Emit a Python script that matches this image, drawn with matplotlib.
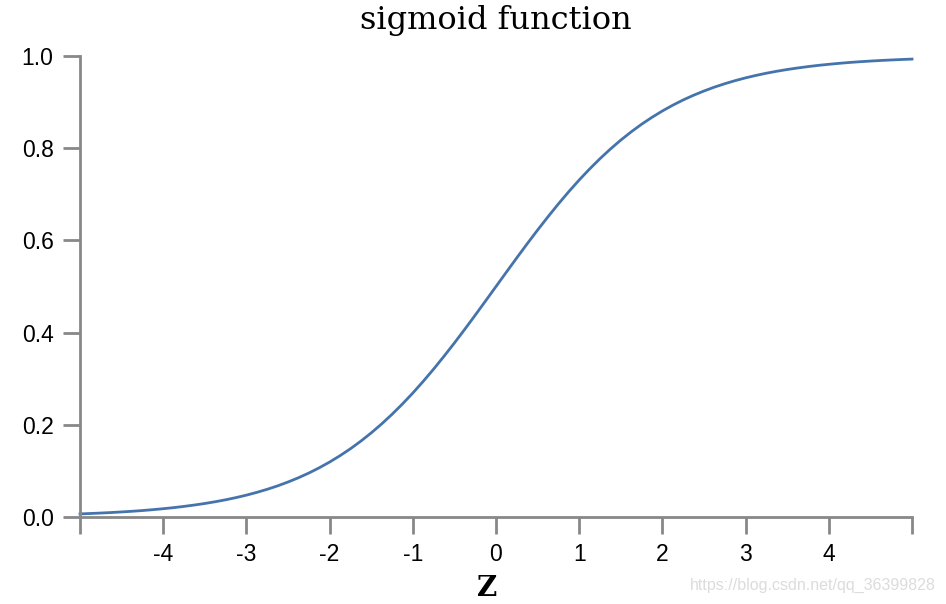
import matplotlib
matplotlib.use("Agg")
import matplotlib.pyplot as plt

z_values = [-5.0, -4.875, -4.75, -4.625, -4.5, -4.375, -4.25, -4.125, -4.0, -3.875,
            -3.75, -3.625, -3.5, -3.375, -3.25, -3.125, -3.0, -2.875, -2.75, -2.625,
            -2.5, -2.375, -2.25, -2.125, -2.0, -1.875, -1.75, -1.625, -1.5, -1.375,
            -1.25, -1.125, -1.0, -0.875, -0.75, -0.625, -0.5, -0.375, -0.25, -0.125,
            0.0, 0.125, 0.25, 0.375, 0.5, 0.625, 0.75, 0.875, 1.0, 1.125,
            1.25, 1.375, 1.5, 1.625, 1.75, 1.875, 2.0, 2.125, 2.25, 2.375,
            2.5, 2.625, 2.75, 2.875, 3.0, 3.125, 3.25, 3.375, 3.5, 3.625,
            3.75, 3.875, 4.0, 4.125, 4.25, 4.375, 4.5, 4.625, 4.75, 4.875, 5.0]
sigmoid_values = [0.0067, 0.0076, 0.0086, 0.0097, 0.0110, 0.0124, 0.0140, 0.0159, 0.0180, 0.0203,
                  0.0230, 0.0260, 0.0293, 0.0331, 0.0373, 0.0421, 0.0474, 0.0534, 0.0601, 0.0675,
                  0.0759, 0.0851, 0.0953, 0.1067, 0.1192, 0.1330, 0.1480, 0.1645, 0.1824, 0.2018,
                  0.2227, 0.2451, 0.2689, 0.2942, 0.3208, 0.3487, 0.3775, 0.4073, 0.4378, 0.4688,
                  0.5000, 0.5312, 0.5622, 0.5927, 0.6225, 0.6513, 0.6792, 0.7058, 0.7311, 0.7549,
                  0.7773, 0.7982, 0.8176, 0.8355, 0.8520, 0.8670, 0.8808, 0.8933, 0.9047, 0.9149,
                  0.9241, 0.9325, 0.9399, 0.9466, 0.9526, 0.9579, 0.9627, 0.9669, 0.9707, 0.9740,
                  0.9770, 0.9797, 0.9820, 0.9841, 0.9860, 0.9876, 0.9890, 0.9903, 0.9914, 0.9924,
                  0.9933]
x_ticks = [-5, -4, -3, -2, -1, 0, 1, 2, 3, 4, 5]
x_tick_labels = ["", "-4", "-3", "-2", "-1", "0", "1", "2", "3", "4", ""]
y_ticks = [0.0, 0.2, 0.4, 0.6, 0.8, 1.0]
y_tick_labels = ["0.0", "0.2", "0.4", "0.6", "0.8", "1.0"]
title = "sigmoid function"
x_label = "Z"
watermark = "https://blog.csdn.net/qq_36399828"

W, H = 946, 604
fig = plt.figure(figsize=(W / 100, H / 100), dpi=100)
left, right, top, bottom = 80, 912, 56, 517
ax = fig.add_axes([left / W, 1 - bottom / H, (right - left) / W, (bottom - top) / H])

ax.plot(z_values, sigmoid_values, color="#4574ac", lw=2.0, solid_joinstyle="round",
        clip_on=False)
ax.set_xlim(-5, 5)
ax.set_ylim(0, 1)

axis_color = "#888888"
for s in ["top", "right"]:
    ax.spines[s].set_visible(False)
for s in ["left", "bottom"]:
    ax.spines[s].set_color(axis_color)
    ax.spines[s].set_linewidth(2.0)

ax.set_xticks(x_ticks)
ax.set_xticklabels(x_tick_labels)
ax.set_yticks(y_ticks)
ax.set_yticklabels(y_tick_labels)
ax.tick_params(axis="both", length=12, width=2.0, color=axis_color,
               labelsize=16.5, labelcolor="#000000")
ax.tick_params(axis="x", pad=7)
ax.tick_params(axis="y", pad=7)
for lab in ax.get_xticklabels() + ax.get_yticklabels():
    lab.set_fontfamily("Liberation Sans")

fig.text((left + right) / 2 / W, 1 - 20 / H, title, ha="center", va="center",
         fontsize=23, fontfamily="DejaVu Serif", color="#000000")
fig.text(487 / W, 1 - 588 / H, x_label, ha="center", va="center",
         fontsize=20, fontfamily="DejaVu Serif", fontweight="bold", color="#000000")
fig.text(936 / W, 1 - 585 / H, watermark, ha="right", va="center",
         fontsize=11.5, fontfamily="Liberation Sans", color="#dcdcdc")

fig.savefig("out.png", dpi=100)
